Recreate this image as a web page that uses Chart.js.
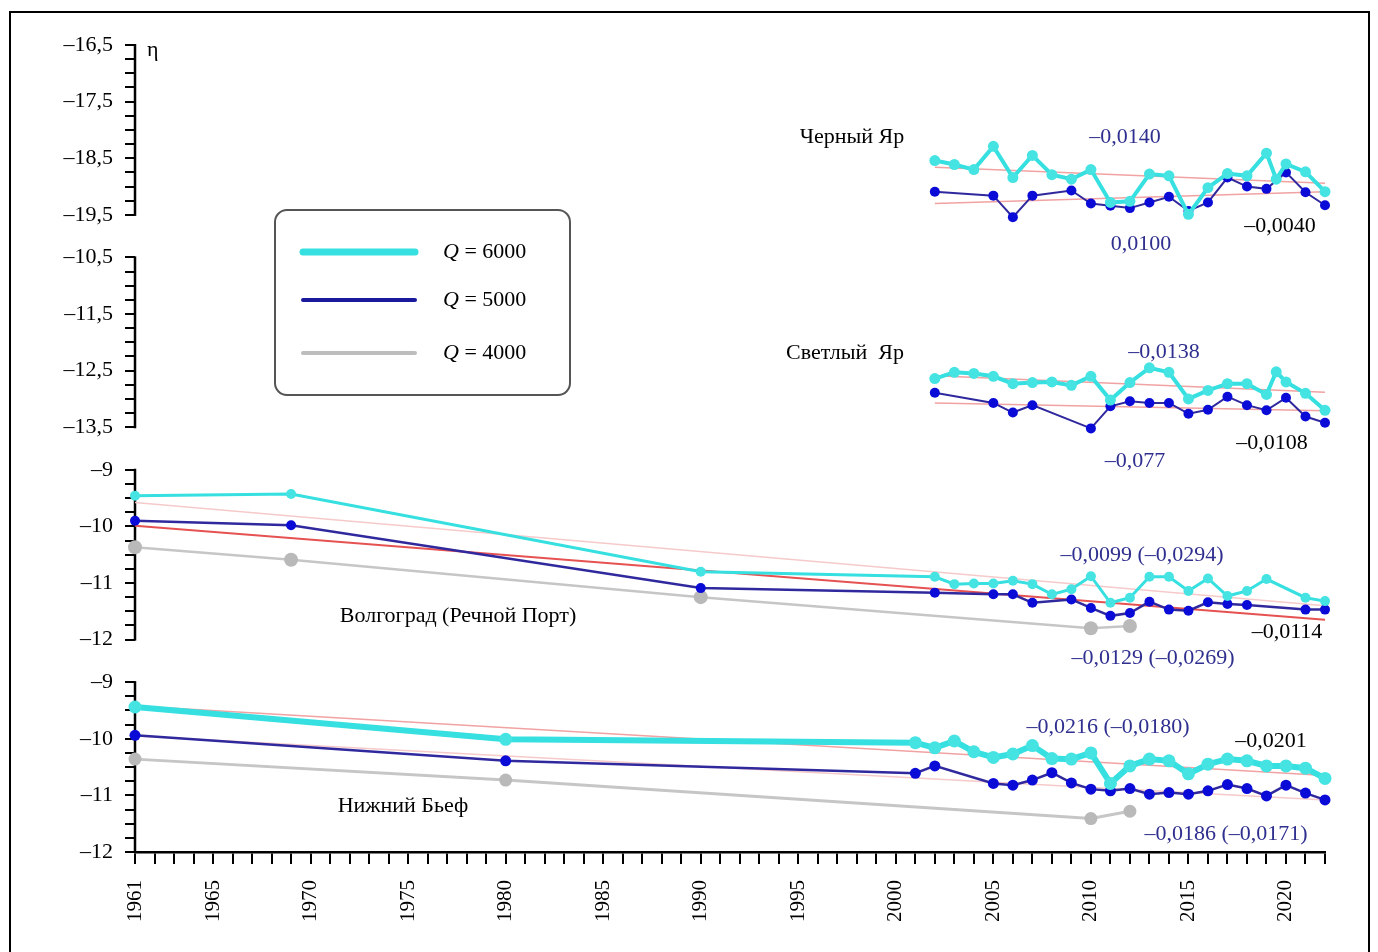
<!DOCTYPE html>
<html>
<head>
<meta charset="utf-8"/>
<title>η — уровни воды</title>
<script src="https://cdn.jsdelivr.net/npm/chart.js@4.4.0/dist/chart.umd.min.js"></script>
<style>
  body { margin: 0; background: #fff; overflow: hidden; }
  #wrap { position: relative; width: 1378px; height: 952px; }
  #frame { position: absolute; left: 9px; top: 11px; width: 1357px; height: 960px; border: 2px solid #000; pointer-events: none; }
  canvas { position: absolute; left: 0; top: 0; }
</style>
</head>
<body>
<div id="wrap">
  <canvas id="chart" width="1378" height="952"></canvas>
  <div id="frame"></div>
</div>
<script>
// --- data ---
var qValues = [6000, 5000, 4000];

// Черный Яр
var cherYearsQ6 = [2002,2003,2004,2005,2006,2007,2008,2009,2010,2011,2012,2013,2014,2015,2016,2017,2018,2019,2019.5,2020,2021,2022];
var cherQ6 = [-18.54,-18.61,-18.70,-18.29,-18.84,-18.45,-18.79,-18.87,-18.70,-19.28,-19.26,-18.78,-18.81,-19.49,-19.02,-18.77,-18.81,-18.41,-18.87,-18.60,-18.74,-19.09];
var cherYearsQ5 = [2002,2005,2006,2007,2009,2010,2011,2012,2013,2014,2015,2016,2017,2018,2019,2020,2021,2022];
var cherQ5 = [-19.09,-19.16,-19.54,-19.16,-19.07,-19.30,-19.34,-19.38,-19.28,-19.18,-19.43,-19.28,-18.84,-19.00,-19.04,-18.75,-19.10,-19.33];

// Светлый Яр
var svetYearsQ6 = [2002,2003,2004,2005,2006,2007,2008,2009,2010,2011,2012,2013,2014,2015,2016,2017,2018,2019,2019.5,2020,2021,2022];
var svetQ6 = [-12.64,-12.53,-12.55,-12.60,-12.73,-12.71,-12.70,-12.76,-12.60,-13.02,-12.71,-12.45,-12.53,-13.00,-12.85,-12.73,-12.73,-12.92,-12.52,-12.70,-12.90,-13.20];
var svetYearsQ5 = [2002,2005,2006,2007,2010,2011,2012,2013,2014,2015,2016,2017,2018,2019,2020,2021,2022];
var svetQ5 = [-12.89,-13.07,-13.24,-13.11,-13.52,-13.13,-13.04,-13.07,-13.07,-13.26,-13.19,-12.96,-13.11,-13.20,-12.98,-13.31,-13.42];

// Волгоград (Речной Порт)
var volYearsQ6 = [1961,1969,1990,2002,2003,2004,2005,2006,2007,2008,2009,2010,2011,2012,2013,2014,2015,2016,2017,2018,2019,2021,2022];
var volQ6 = [-9.46,-9.43,-10.80,-10.89,-11.02,-11.01,-11.01,-10.96,-11.02,-11.20,-11.11,-10.88,-11.35,-11.26,-10.89,-10.89,-11.14,-10.92,-11.23,-11.14,-10.93,-11.26,-11.32];
var volYearsQ5 = [1961,1969,1990,2002,2005,2006,2007,2009,2010,2011,2012,2013,2014,2015,2016,2017,2018,2021,2022];
var volQ5 = [-9.90,-9.98,-11.09,-11.17,-11.20,-11.20,-11.35,-11.29,-11.44,-11.58,-11.53,-11.33,-11.47,-11.49,-11.34,-11.37,-11.39,-11.47,-11.47];
var volYearsQ4 = [1961,1969,1990,2010,2012];
var volQ4 = [-10.37,-10.59,-11.25,-11.80,-11.76];

// Нижний Бьеф
var nizYearsQ6 = [1961,1980,2001,2002,2003,2004,2005,2006,2007,2008,2009,2010,2011,2012,2013,2014,2015,2016,2017,2018,2019,2020,2021,2022];
var nizQ6 = [-9.44,-10.01,-10.07,-10.16,-10.04,-10.23,-10.33,-10.27,-10.12,-10.35,-10.36,-10.25,-10.79,-10.48,-10.36,-10.39,-10.62,-10.45,-10.36,-10.39,-10.48,-10.48,-10.52,-10.70];
var nizYearsQ5 = [1961,1980,2001,2002,2005,2006,2007,2008,2009,2010,2011,2012,2013,2014,2015,2016,2017,2018,2019,2020,2021,2022];
var nizQ5 = [-9.94,-10.39,-10.61,-10.48,-10.79,-10.82,-10.73,-10.60,-10.78,-10.89,-10.92,-10.88,-10.98,-10.95,-10.98,-10.92,-10.81,-10.88,-11.01,-10.82,-10.96,-11.08];
var nizYearsQ4 = [1961,1980,2010,2012];
var nizQ4 = [-10.36,-10.73,-11.41,-11.28];

// linear trends (end points)
var trendYearsShort = [2002, 2022];
var trendYearsLong = [1961, 2022];
var cherTrendQ6 = [-18.66, -18.94];
var cherTrendQ5 = [-19.30, -19.09];
var svetTrendQ6 = [-12.59, -12.88];
var svetTrendQ5 = [-13.07, -13.21];
var volTrendQ6 = [-9.58, -11.40];
var volTrendQ5 = [-9.99, -11.65];
var nizTrendQ6 = [-9.42, -10.65];
var nizTrendQ5 = [-9.95, -11.08];

var xTickLabels = [1961, 1965, 1970, 1975, 1980, 1985, 1990, 1995, 2000, 2005, 2010, 2015, 2020];

// --- styling ---
var FONT = '"Liberation Serif", "Times New Roman", serif';
var CYAN = '#36dfe0', CYAN_PT = '#46e3e3';
var BLUE = '#30299e', BLUE_PT = '#0b0bd8';
var GRAY = '#c6c6c6', GRAY_PT = '#b9b9b9';
var PINK = '#f1a2a2', PINK_LIGHT = '#f6caca', RED = '#e65252';
var TXT_BLUE = '#2f2f8f';

function pts(xs, ys) {
    return xs.map(function(x, i) { return {x: x, y: ys[i]}; });
}
function series(label, axis, data, color, ptColor, width, radius) {
    return {
        label: label, yAxisID: axis, data: data, clip: false,
        borderColor: color, borderWidth: width, backgroundColor: ptColor,
        pointRadius: radius, pointBackgroundColor: ptColor, pointBorderWidth: 0,
        tension: 0, fill: false
    };
}
function trend(axis, data, color, width) {
    return { yAxisID: axis, data: data, clip: false, borderColor: color, borderWidth: width, pointRadius: 0, fill: false };
}

var panels = [
    {id: 'y1', min: -19.5, max: -16.5, top: -16.5, half: true},
    {id: 'y2', min: -13.5, max: -9.75, top: -10.5, half: true},
    {id: 'y3', min: -12,   max: -8.25, top: -9,    half: false},
    {id: 'y4', min: -12,   max: -8.25, top: -9,    half: false}
];

function fmt(v) {
    var s = String(Math.abs(Math.round(v * 100) / 100)).replace('.', ',');
    return (v < 0 ? '\u2013' : '') + s;
}

function yAxis(p, w) {
    return {
        type: 'linear', position: 'left', stack: 'eta', stackWeight: p.max - p.min, weight: w,
        min: p.min, max: p.max,
        border: {display: false},
        grid: {drawOnChartArea: false, drawTicks: true, tickLength: 10, color: '#000', lineWidth: 2},
        ticks: {
            stepSize: 0.25, autoSkip: false, padding: 12, color: '#000', font: {family: FONT, size: 22},
            callback: function(v) {
                var frac = Math.abs(v - Math.trunc(v));
                var major = p.half ? Math.abs(frac - 0.5) < 1e-6 : (frac < 1e-6 || frac > 1 - 1e-6);
                return major ? fmt(v) : '';
            }
        },
        afterBuildTicks: function(s) {
            s.ticks = s.ticks.filter(function(t) { return t.value <= p.top + 1e-6; });
        },
        afterFit: function(s) { s.width = 135; }
    };
}

var annotations = [
    {t: 'Черный Яр', x: 852, y: 137, c: '#000'},
    {t: '\u20130,0140', x: 1125, y: 137, c: TXT_BLUE},
    {t: '0,0100', x: 1141, y: 244, c: TXT_BLUE},
    {t: '\u20130,0040', x: 1280, y: 226, c: '#000'},
    {t: 'Светлый  Яр', x: 845, y: 353, c: '#000'},
    {t: '\u20130,0138', x: 1164, y: 352, c: TXT_BLUE},
    {t: '\u20130,0108', x: 1272, y: 443, c: '#000'},
    {t: '\u20130,077', x: 1135, y: 461, c: TXT_BLUE},
    {t: '\u20130,0099 (\u20130,0294)', x: 1142, y: 555, c: TXT_BLUE},
    {t: '\u20130,0114', x: 1287, y: 632, c: '#000'},
    {t: '\u20130,0129 (\u20130,0269)', x: 1153, y: 658, c: TXT_BLUE},
    {t: 'Волгоград (Речной Порт)', x: 458, y: 616, c: '#000'},
    {t: '\u20130,0216 (\u20130,0180)', x: 1108, y: 727, c: TXT_BLUE},
    {t: '\u20130,0201', x: 1271, y: 741, c: '#000'},
    {t: 'Нижний Бьеф', x: 403, y: 806, c: '#000'},
    {t: '\u20130,0186 (\u20130,0171)', x: 1226, y: 834, c: TXT_BLUE}
];

var legendRows = [
    {color: CYAN, width: 7, y: 252},
    {color: '#1c1a9c', width: 4, y: 300},
    {color: '#bdbdbd', width: 4, y: 353}
];

var decor = {
    id: 'decor',
    beforeDatasetsDraw: function(chart) {
        var ctx = chart.ctx;
        ctx.save();
        ctx.strokeStyle = '#000';
        ctx.lineWidth = 2.5;
        panels.forEach(function(p) {
            var s = chart.scales[p.id];
            ctx.beginPath();
            ctx.moveTo(s.right, s.getPixelForValue(p.top) - 1);
            ctx.lineTo(s.right, s.getPixelForValue(p.min) + 1);
            ctx.stroke();
        });
        ctx.restore();
    },
    afterDraw: function(chart) {
        var ctx = chart.ctx;
        ctx.save();
        ctx.textAlign = 'center';
        ctx.textBaseline = 'middle';
        ctx.font = '22px ' + FONT;
        annotations.forEach(function(a) {
            ctx.fillStyle = a.c;
            ctx.fillText(a.t, a.x, a.y);
        });
        ctx.textAlign = 'left';
        ctx.fillStyle = '#000';
        ctx.fillText('\u03b7', 147, 50);

        // legend box
        var bx = 275, by = 210, bw = 295, bh = 185, r = 12;
        ctx.beginPath();
        ctx.moveTo(bx + r, by);
        ctx.arcTo(bx + bw, by, bx + bw, by + bh, r);
        ctx.arcTo(bx + bw, by + bh, bx, by + bh, r);
        ctx.arcTo(bx, by + bh, bx, by, r);
        ctx.arcTo(bx, by, bx + bw, by, r);
        ctx.closePath();
        ctx.strokeStyle = '#555';
        ctx.lineWidth = 2;
        ctx.stroke();
        ctx.lineCap = 'round';
        legendRows.forEach(function(row, i) {
            ctx.strokeStyle = row.color;
            ctx.lineWidth = row.width;
            ctx.beginPath();
            ctx.moveTo(303, row.y);
            ctx.lineTo(415, row.y);
            ctx.stroke();
            ctx.fillStyle = '#000';
            ctx.font = 'italic 22px ' + FONT;
            ctx.fillText('Q', 443, row.y);
            var qw = ctx.measureText('Q').width;
            ctx.font = '22px ' + FONT;
            ctx.fillText(' = ' + qValues[i], 443 + qw, row.y);
        });
        ctx.restore();
    }
};

var scales = {
    x: {
        type: 'linear', min: 1961, max: 2022,
        border: {display: true, color: '#000', width: 2.5},
        grid: {drawOnChartArea: false, drawTicks: true, tickLength: 12, color: '#000', lineWidth: 2},
        ticks: {
            stepSize: 1, autoSkip: false, maxRotation: 90, minRotation: 90, padding: 16,
            color: '#000', font: {family: FONT, size: 21},
            callback: function(v) { return xTickLabels.indexOf(v) >= 0 ? String(v) : ''; }
        },
        afterFit: function(s) { s.height = 100; }
    }
};
panels.forEach(function(p, i) { scales[p.id] = yAxis(p, 4 - i); });

var ctx = document.getElementById('chart');
var myChart = new Chart(ctx, {
    type: 'line',
    data: {
        datasets: [
            series('Q = 6000', 'y1', pts(cherYearsQ6, cherQ6), CYAN, CYAN_PT, 4, 5.5),
            series('Q = 6000', 'y2', pts(svetYearsQ6, svetQ6), CYAN, CYAN_PT, 4, 5.5),
            series('Q = 6000', 'y3', pts(volYearsQ6, volQ6), CYAN, CYAN_PT, 3, 5),
            series('Q = 6000', 'y4', pts(nizYearsQ6, nizQ6), CYAN, CYAN_PT, 6, 6.5),
            series('Q = 5000', 'y1', pts(cherYearsQ5, cherQ5), BLUE, BLUE_PT, 2, 5),
            series('Q = 5000', 'y2', pts(svetYearsQ5, svetQ5), BLUE, BLUE_PT, 2, 5),
            series('Q = 5000', 'y3', pts(volYearsQ5, volQ5), BLUE, BLUE_PT, 2.5, 5),
            series('Q = 5000', 'y4', pts(nizYearsQ5, nizQ5), BLUE, BLUE_PT, 2.5, 5.5),
            series('Q = 4000', 'y3', pts(volYearsQ4, volQ4), GRAY, GRAY_PT, 2.5, 7),
            series('Q = 4000', 'y4', pts(nizYearsQ4, nizQ4), GRAY, GRAY_PT, 3, 6.5),
            trend('y1', pts(trendYearsShort, cherTrendQ6), PINK, 1.5),
            trend('y1', pts(trendYearsShort, cherTrendQ5), PINK, 1.5),
            trend('y2', pts(trendYearsShort, svetTrendQ6), PINK, 1.5),
            trend('y2', pts(trendYearsShort, svetTrendQ5), PINK, 1.5),
            trend('y3', pts(trendYearsLong, volTrendQ6), PINK_LIGHT, 1.5),
            trend('y3', pts(trendYearsLong, volTrendQ5), RED, 2),
            trend('y4', pts(trendYearsLong, nizTrendQ6), PINK, 1.5),
            trend('y4', pts(trendYearsLong, nizTrendQ5), PINK_LIGHT, 1.5)
        ]
    },
    options: {
        responsive: false,
        animation: false,
        layout: {padding: {top: 45, right: 53, left: 0, bottom: 0}},
        scales: scales,
        plugins: {
            legend: {display: false},
            tooltip: {enabled: false}
        }
    },
    plugins: [decor]
});
</script>
</body>
</html>
